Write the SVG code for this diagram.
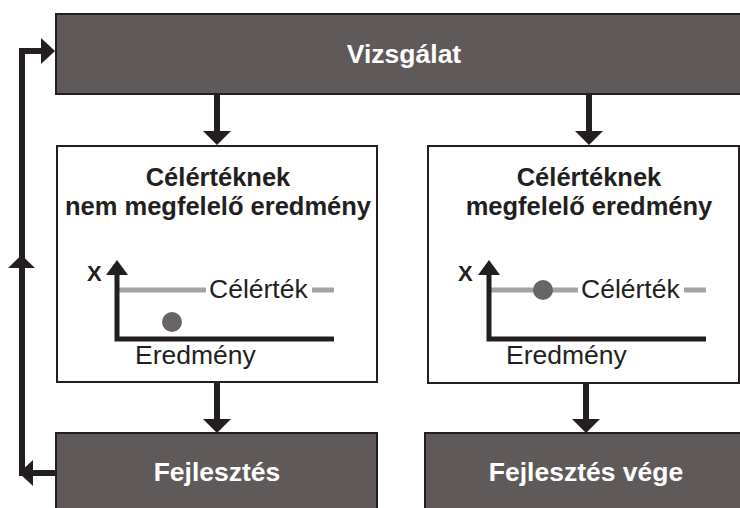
<svg xmlns="http://www.w3.org/2000/svg" width="740" height="508" viewBox="0 0 740 508">
<style>
.dark{fill:#5f5a59;stroke:#231f20;stroke-width:2}
.light{fill:#ffffff;stroke:#231f20;stroke-width:2}
.lbl{font-family:"Liberation Sans",Arial,sans-serif;font-weight:bold;font-size:26.5px;fill:#ffffff;text-anchor:middle}
.ttl{font-family:"Liberation Sans",Arial,sans-serif;font-weight:bold;font-size:25.5px;fill:#231f20;text-anchor:middle}
.reg{font-family:"Liberation Sans",Arial,sans-serif;font-size:26.5px;fill:#231f20}
.xl{font-family:"Liberation Sans",Arial,sans-serif;font-weight:bold;font-size:22px;fill:#231f20}
.line{stroke:#231f20;stroke-width:6;fill:none}
.axis{stroke:#231f20;stroke-width:5;fill:none}
.gray{stroke:#a3a3a3;stroke-width:5;fill:none}
.head{fill:#231f20}
.dot{fill:#6a6565}
</style>
<rect width="740" height="508" fill="#ffffff"/>
<g id="vizsgalat">
<rect class="dark" x="56" y="14" width="700" height="80"/>
<text class="lbl" x="404" y="63">Vizsgálat</text>
</g>
<g id="nem-megfelelo">
<rect class="light" x="57" y="146" width="320" height="236"/>
<text class="ttl" x="218" y="186">Célértéknek</text>
<text class="ttl" x="218" y="215">nem megfelelő eredmény</text>
<line class="gray" x1="119" y1="290" x2="206" y2="290"/>
<text class="reg" x="209" y="298">Célérték</text>
<line class="gray" x1="312" y1="290" x2="334" y2="290"/>
<polyline class="axis" points="117,272 117,339 334,339"/>
<polygon class="head" points="117,260 106,275 128,275"/>
<text class="xl" x="87" y="281">X</text>
<circle class="dot" cx="172" cy="322" r="10"/>
<text class="reg" x="135" y="364">Eredmény</text>
</g>
<g id="megfelelo">
<rect class="light" x="428" y="146" width="311" height="237"/>
<text class="ttl" x="589" y="186">Célértéknek</text>
<text class="ttl" x="589" y="215">megfelelő eredmény</text>
<line class="gray" x1="491" y1="290" x2="578" y2="290"/>
<text class="reg" x="581" y="298">Célérték</text>
<line class="gray" x1="684" y1="290" x2="706" y2="290"/>
<polyline class="axis" points="489,272 489,339 706,339"/>
<polygon class="head" points="489,260 478,275 500,275"/>
<text class="xl" x="458" y="281">X</text>
<circle class="dot" cx="543" cy="290" r="10"/>
<text class="reg" x="506" y="364">Eredmény</text>
</g>
<g id="fejlesztes">
<rect class="dark" x="56" y="433" width="321" height="90"/>
<text class="lbl" x="217" y="481">Fejlesztés</text>
</g>
<g id="fejlesztes-vege">
<rect class="dark" x="425" y="433" width="330" height="90"/>
<text class="lbl" x="586" y="481">Fejlesztés vége</text>
</g>
<g id="connectors">
<line class="line" x1="217" y1="94" x2="217" y2="132"/>
<polygon class="head" points="203,131 231,131 217,145"/>
<line class="line" x1="589" y1="94" x2="589" y2="132"/>
<polygon class="head" points="575,131 603,131 589,145"/>
<line class="line" x1="217" y1="382" x2="217" y2="420"/>
<polygon class="head" points="203,419 231,419 217,433"/>
<line class="line" x1="586" y1="383" x2="586" y2="420"/>
<polygon class="head" points="572,419 600,419 586,433"/>
<polyline class="line" points="56,473 22,473 22,51 43,51"/>
<polygon class="head" points="19,473 33,460 33,486"/>
<polygon class="head" points="8,268 35,268 21.5,255"/>
<polygon class="head" points="41,38 41,64 55,51"/>
</g>
</svg>
